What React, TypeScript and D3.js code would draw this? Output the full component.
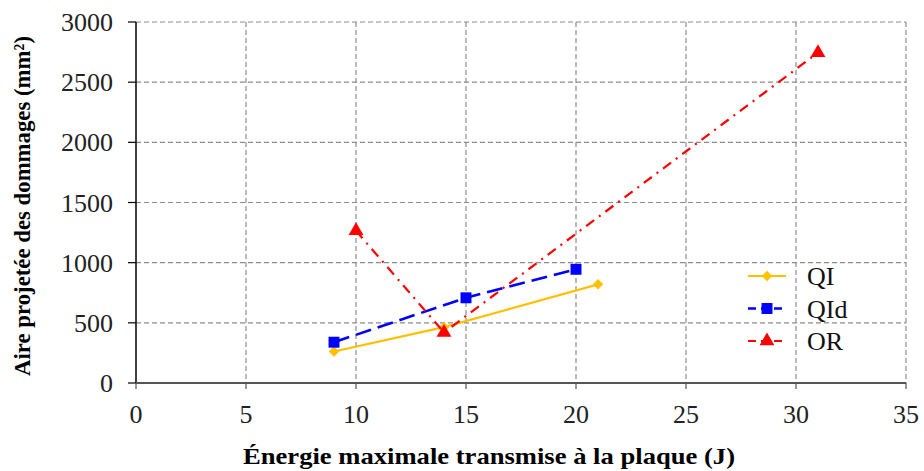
import * as d3 from "d3";

const xTicks = [0, 5, 10, 15, 20, 25, 30, 35];
const yTicks = [0, 500, 1000, 1500, 2000, 2500, 3000];

const qiX = [9, 14, 21];
const qiY = [262, 464, 820];
const qidX = [9, 15, 20];
const qidY = [339, 708, 945];
const orX = [10, 14, 31];
const orY = [1265, 420, 2745];

const seriesNames = ["QI", "QId", "OR"];

const width = 924;
const height = 471;
const margin = { top: 22, right: 18, bottom: 88, left: 136 };
const fontStyle = { fontFamily: "'Liberation Serif', 'Times New Roman', Times, serif" };

const x = d3.scaleLinear().domain([0, 35]).range([margin.left, width - margin.right]);
const y = d3.scaleLinear().domain([0, 3000]).range([height - margin.bottom, margin.top]);

const toPts = (xs: number[], ys: number[]) => xs.map((v, i) => [v, ys[i]] as [number, number]);

const line = d3
  .line<[number, number]>()
  .x((d) => x(d[0]))
  .y((d) => y(d[1]));

// diamond = square turned 45 degrees
const series = [
  { name: seriesNames[0], pts: toPts(qiX, qiY), color: "#FFC000", dash: "", width: 2.2, shape: d3.symbolSquare, size: 55, rot: 45 },
  { name: seriesNames[1], pts: toPts(qidX, qidY), color: "#0000FF", dash: "16,7", width: 2.6, shape: d3.symbolSquare, size: 120, rot: 0 },
  { name: seriesNames[2], pts: toPts(orX, orY), color: "#FF0000", dash: "10,6,2,6", width: 2.2, shape: d3.symbolTriangle, size: 95, rot: 0 },
];

export default function App() {
  const x0 = x(0);
  const x1 = x(35);
  const y0 = y(0);
  const y1 = y(3000);
  return (
    <svg width={width} height={height} style={{ position: "absolute", left: 0, top: 0, background: "#fff", ...fontStyle }}>
      {/* grid */}
      {yTicks.slice(1).map((t) => (
        <line key={"gy" + t} x1={x0} x2={x1} y1={y(t)} y2={y(t)} stroke="#8c8c8c" strokeDasharray="5,3" strokeWidth={1.2} />
      ))}
      {xTicks.slice(1).map((t) => (
        <line key={"gx" + t} x1={x(t)} x2={x(t)} y1={y1} y2={y0} stroke="#8c8c8c" strokeDasharray="5,3" strokeWidth={1.2} />
      ))}

      {/* axes */}
      <line x1={x0} x2={x0} y1={y1} y2={y0} stroke="#000" strokeWidth={1.5} />
      {yTicks.map((t) => (
        <g key={"yt" + t}>
          <line x1={x0 - 8} x2={x0} y1={y(t)} y2={y(t)} stroke="#000" strokeWidth={1.2} />
          <text x={x0 - 23} y={y(t) + 9} textAnchor="end" fontSize={26} fill="#222" style={fontStyle}>
            {t}
          </text>
        </g>
      ))}
      <line x1={x0} x2={x1} y1={y0} y2={y0} stroke="#555" strokeWidth={2.2} />
      {xTicks.map((t) => (
        <g key={"xt" + t}>
          <line x1={x(t)} x2={x(t)} y1={y0} y2={y0 + 6} stroke="#555" strokeWidth={1.2} />
          <text x={x(t)} y={y0 + 40} textAnchor="middle" fontSize={26} fill="#222" style={fontStyle}>
            {t}
          </text>
        </g>
      ))}

      {/* series */}
      {series.map((s) => (
        <g key={s.name}>
          <path d={line(s.pts) || ""} fill="none" stroke={s.color} strokeWidth={s.width} strokeDasharray={s.dash} />
          {s.pts.map((p, i) => (
            <path
              key={i}
              d={d3.symbol().type(s.shape).size(s.size)() || ""}
              transform={`translate(${x(p[0])},${y(p[1])}) rotate(${s.rot})`}
              fill={s.color}
            />
          ))}
        </g>
      ))}

      {/* legend */}
      {series.map((s, i) => {
        const ly = 276 + i * 32.5;
        return (
          <g key={"lg" + s.name}>
            <line x1={748} x2={786} y1={ly} y2={ly} stroke={s.color} strokeWidth={s.width} strokeDasharray={s.dash ? "8,5" : ""} />
            <path d={d3.symbol().type(s.shape).size(s.size)() || ""} transform={`translate(767,${ly}) rotate(${s.rot})`} fill={s.color} />
            <text x={807} y={ly + 9} fontSize={26} fill="#111" style={fontStyle}>
              {s.name}
            </text>
          </g>
        );
      })}

      {/* titles */}
      <text x={489} y={464} textAnchor="middle" fontSize={23} fontWeight="bold" textLength={492} lengthAdjust="spacingAndGlyphs" style={fontStyle}>
        Énergie maximale transmise à la plaque (J)
      </text>
      <text
        transform="translate(30,206) rotate(-90)"
        textAnchor="middle"
        fontSize={23}
        fontWeight="bold"
        textLength={340}
        lengthAdjust="spacingAndGlyphs"
        style={fontStyle}
      >
        Aire projetée des dommages (mm²)
      </text>
    </svg>
  );
}
